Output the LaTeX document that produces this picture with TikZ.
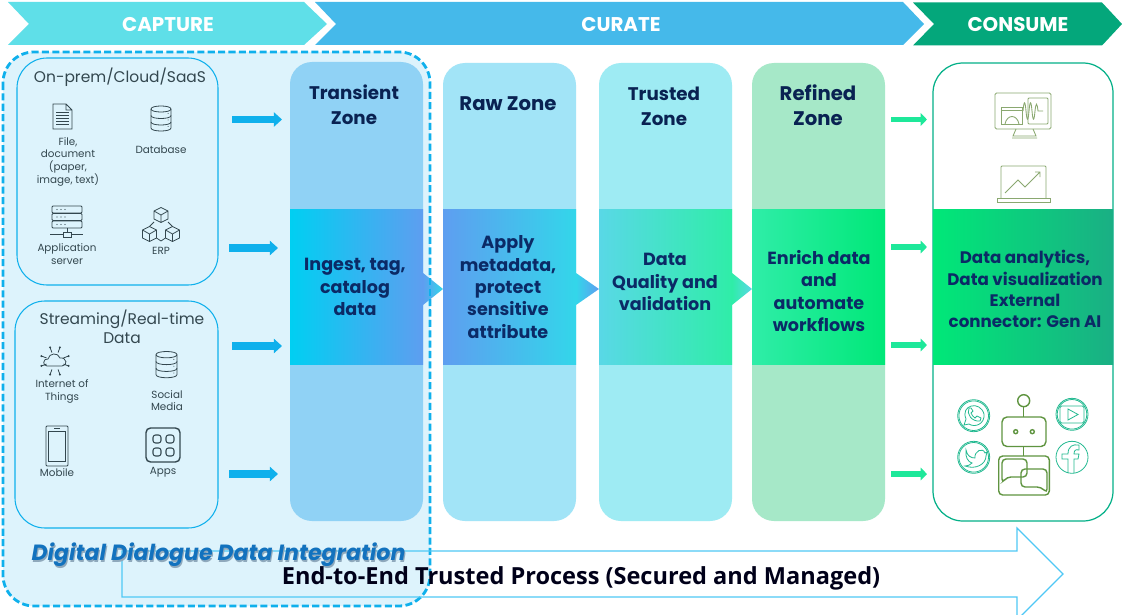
\documentclass[tikz,border=0pt]{standalone}
\usepackage{fontspec}
\setmainfont{Poppins}
\newfontfamily\endfont{Open Sans}
\usepackage{xcolor}
\usetikzlibrary{arrows.meta}

\definecolor{capturecol}{HTML}{5FDFE8}
\definecolor{curatecol}{HTML}{45B9EA}
\definecolor{consumecol}{HTML}{04A77B}
\definecolor{panelcol}{HTML}{DDF3FC}
\definecolor{dashcol}{HTML}{0FB0EC}
\definecolor{navycol}{HTML}{0B2A66}
\definecolor{inkcol}{HTML}{33474F}
\definecolor{leafcol}{HTML}{8AA870}
\definecolor{robotcol}{HTML}{5F9440}
\definecolor{socialcol}{HTML}{22B990}
\definecolor{zoneA}{HTML}{90D2F5}
\definecolor{zoneB}{HTML}{A2E4F7}
\definecolor{zoneC}{HTML}{9EEBF3}
\definecolor{zoneD}{HTML}{A6E8C8}
\definecolor{bandA}{HTML}{00CFF2}
\definecolor{bandB}{HTML}{5E9EF0}
\definecolor{bandC}{HTML}{33D6EA}
\definecolor{bandD}{HTML}{59D8E6}
\definecolor{bandE}{HTML}{2FEDA8}
\definecolor{bandF}{HTML}{00E878}
\definecolor{bandG}{HTML}{1AAF84}
\definecolor{bigarrowcol}{HTML}{4FC8F5}
\definecolor{outcol}{HTML}{1EE89A}
\definecolor{digitalcol}{HTML}{1272BE}
\definecolor{shadowcol}{HTML}{8FA9BC}

\tikzset{
  banner/.style={fill=#1},
  bannertext/.style={text=white,font=\fontsize{11.3}{14}\selectfont\bfseries},
  zone/.style={fill=#1,rounded corners=0.44cm},
  zonetext/.style={text=black!20!navycol,align=center,font=\fontsize{11.2}{14.2}\selectfont\bfseries},
  zonenarrow/.style={text=black!20!navycol,align=center,font=\fontsize{10.4}{14.2}\selectfont\bfseries},
  bandtext/.style={text=navycol,align=center,font=\fontsize{10}{12.7}\selectfont\bfseries},
  consumetext/.style={text=navycol,align=center,font=\fontsize{9.5}{12}\selectfont\bfseries},
  srcbox/.style={draw=dashcol,fill=panelcol,line width=0.6pt,rounded corners=0.6cm},
  srctext/.style={text=inkcol,align=center,font=\fontsize{8.8}{10.8}\selectfont},
  icontext/.style={text=inkcol,align=center,font=\fontsize{5.9}{7.2}\selectfont},
  icon/.style={draw=inkcol,line width=0.45pt},
  inarrow/.style={draw=dashcol,line width=4pt,-{Triangle[length=4.6pt,width=8pt]}},
  outarrow/.style={draw=outcol,line width=3.4pt,-{Triangle[length=3.6pt,width=7pt]}},
  leaf/.style={draw=leafcol,line width=0.5pt},
  robot/.style={draw=robotcol,line width=0.8pt},
  social/.style={draw=socialcol,line width=0.45pt},
  dashline/.style={draw=dashcol,line width=1.6pt,dash pattern=on 4pt off 1.9pt},
}

\newcommand{\dbicon}[3]{%
  \begin{scope}[shift={(#1,#2)},icon,x=#3*0.02cm,y=-#3*0.02cm]
    \draw (0,3) .. controls (0,-1) and (20,-1) .. (20,3) -- (20,22) .. controls (20,26) and (0,26) .. (0,22) -- cycle;
    \draw (0,3) .. controls (0,7) and (20,7) .. (20,3);
    \draw (0,9.5) .. controls (0,13.5) and (20,13.5) .. (20,9.5);
    \draw (0,16) .. controls (0,20) and (20,20) .. (20,16);
    \foreach \y in {7.5,14,20.5}{\fill[inkcol] (17,\y) circle [radius=0.5];}
  \end{scope}}

\begin{document}
\begin{tikzpicture}[x=0.02cm,y=-0.02cm]
\useasboundingbox (0,0) rectangle (1122,615);
\clip (0,0) rectangle (1122,615);
\fill[white] (0,0) rectangle (1122,615);

% banners
\fill[banner=capturecol] (8,2)--(304,2)--(327,24)--(304,45)--(8,45)--(29,24)--cycle;
\fill[banner=curatecol] (315,2)--(903,2)--(924,24)--(903,45)--(315,45)--(336,24)--cycle;
\fill[banner=consumecol] (913,2.5)--(1102,2.5)--(1122,24)--(1102,45.5)--(913,45.5)--(934,24)--cycle;
\node[bannertext] (capture) at (168,25) {CAPTURE};
\node[bannertext] (curate) at (621,25) {CURATE};
\node[bannertext] (consume) at (1018,25) {CONSUME};

% panel behind the capture side
\draw[dashline,fill=panelcol,rounded corners=0.62cm] (3,52) rectangle (430,606);

% big arrow
\draw[draw=bigarrowcol,line width=0.7pt] (122,551)--(1017,551)--(1017,528)--(1063,574)--(1017,620)--(1017,597)--(122,597)--cycle;

% zones
\fill[zone=zoneA] (290,62) rectangle (423,521);
\fill[zone=zoneB] (443,63) rectangle (576,521);
\fill[zone=zoneC] (599,63) rectangle (732,521);
\fill[zone=zoneD] (752,63) rectangle (885,521);
\shade[left color=bandA,right color=bandB] (290,209) rectangle (423,364);
\shade[left color=bandB,right color=bandC] (443,209) rectangle (576,364);
\shade[left color=bandD,right color=bandE] (599,209) rectangle (732,364);
\shade[left color=bandE,right color=bandF] (752,209) rectangle (885,364);
\shade[left color=bandB,right color=bandC] (423,273)--(443,289)--(423,305)--cycle;
\shade[left color=bandC,right color=bandB] (576,273)--(599,289)--(576,305)--cycle;
\shade[left color=bandE,right color=bandD] (732,273)--(752,289)--(732,305)--cycle;

% the dashes come back over the first triangle
\draw[dashline] (430,268)--(430,310);

% consume box
\draw[draw=consumecol!90!cyan,line width=0.7pt,rounded corners=0.6cm] (933,63) rectangle (1113,521);
\shade[left color=bandF,right color=bandG] (933,209) rectangle (1113,364);

\node[zonenarrow] (transient) at (354,105) {Transient\\Zone};
\node[zonetext] (raw) at (508,104) {Raw Zone};
\node[zonenarrow] (trusted) at (664,106) {Trusted\\Zone};
\node[zonetext] (refined) at (818,105) {Refined\\Zone};
\node[bandtext] (ingest) at (355,287) {Ingest, tag,\\catalog\\data};
\node[bandtext] (apply) at (508,287) {Apply\\metadata,\\protect\\sensitive\\attribute};
\node[bandtext] (quality) at (665,282) {Data\\Quality and\\validation};
\node[bandtext] (enrich) at (819,291) {Enrich data\\and\\automate\\workflows};
\node[consumetext] (analytics) at (1025,289) {Data analytics,\\Data visualization\\External\\connector: Gen AI};

% source boxes
\draw[srcbox] (17,58) rectangle (218,285);
\draw[srcbox] (15,301) rectangle (218,528);
\node[srctext] (onprem) at (120,77) {On-prem/Cloud/SaaS};
\node[srctext] (streaming) at (122,327) {Streaming/Real-time\\Data};

% file
\draw[icon] (53,104)--(66,104)--(72,110)--(72,129)--(53,129)--cycle (66,104)--(66,110)--(72,110);
\foreach \y in {112,115,118,121,124}{\draw[icon] (56,\y)--(69,\y);}
\node[icontext] (file) at (68,161.5) {File,\\document\\(paper,\\image, text)};
\dbicon{151}{106}{1}
\node[icontext] (database) at (161,149.5) {Database};

% server
\foreach \y in {206,213.5,221}{
  \draw[icon,rounded corners=0.02cm] (52,\y) rectangle (82,\y+7);
  \foreach \x in {57,61,65}{\fill[inkcol] (\x,\y+3.5) circle [radius=0.6];}
}
\draw[icon] (67,228)--(67,232) (50,234.5)--(63,234.5) (71,234.5)--(83,234.5);
\draw[icon] (63,232) rectangle (71,237);
\node[icontext] (appserver) at (67,254) {Application\\server};

% erp
\foreach \x/\y in {161/215,149.5/234,172.5/234}{
  \begin{scope}[shift={(\x,\y)}]
    \draw[icon] (0,-7.5)--(7,-4)--(7,4)--(0,7.5)--(-7,4)--(-7,-4)--cycle (-7,-4)--(0,0)--(7,-4) (0,0)--(0,7.5);
  \end{scope}
}
\draw[icon] (154,222)--(149.5,226.5) (168,222)--(172.5,226.5) (156.5,238)--(161,241)--(165.5,238);
\node[icontext] (erp) at (161,251) {ERP};

% internet of things
\draw[icon] (47,366) .. controls (42,366) and (43,358) .. (48,359) .. controls (49,353) and (58,352) .. (60,358) .. controls (67,357) and (68,366) .. (62,366) -- cycle;
\foreach \a in {20,70,110,160,200,250,290,340}{
  \draw[icon] (55,361)++(\a:9)--++(\a:5.5);
  \fill[inkcol] (55,361)++(\a:14.5) circle [radius=1.1];
}
\node[icontext] (iot) at (62,391.5) {Internet of\\Things};
\dbicon{156}{351.5}{1.05}
\node[icontext] (social) at (167,400.5) {Social\\Media};

% mobile
\draw[icon,rounded corners=0.02cm] (46,426) rectangle (68,466);
\draw[icon] (48.5,431) rectangle (65.5,461);
\draw[icon] (54,428)--(60,428);
\node[icontext] (mobile) at (57,473) {Mobile};

% apps
\draw[draw=inkcol,line width=0.8pt,rounded corners=0.09cm] (146,428) rectangle (180,462);
\foreach \x/\y in {153/435,166/435,153/448,166/448}{
  \draw[draw=inkcol,line width=0.6pt,rounded corners=0.05cm] (\x,\y) rectangle (\x+8,\y+8);
}
\node[icontext] (apps) at (163,472.5) {Apps};

% monitor
\draw[leaf,rounded corners=0.03cm] (995,93) rectangle (1051,129);
\draw[leaf] (1016,129)--(1013,136)--(1036,136)--(1033,129) (1012,138)--(1037,138);
\draw[leaf] (1001,107) rectangle (1022,124) (1001,110)--(1022,110);
\draw[leaf,rounded corners=0.02cm] (1028,98) rectangle (1048,124);
\draw[leaf] (1005,124) .. controls (1007,114) and (1017,114) .. (1019,124);
\draw[leaf] (1023,111) .. controls (1024,100) and (1025,100) .. (1026,111) .. controls (1027,122) and (1028,122) .. (1029,111) .. controls (1030,100) and (1031,100) .. (1032,111) .. controls (1033,122) and (1034,122) .. (1035,111) .. controls (1036,102) and (1037,102) .. (1038,111)--(1043,111);

% laptop
\draw[leaf,rounded corners=0.02cm] (1001,198)--(1001,166)--(1046,166)--(1046,198);
\draw[leaf] (997,198) rectangle (1050,202);
\draw[leaf] (1005,193)--(1018,180)--(1025,187)--(1040,172) (1035,172)--(1040,172)--(1040,177);

% robot
\draw[robot] (1023.7,400.7) circle [radius=6];
\draw[robot] (1023.7,406.7)--(1023.7,417) (1023.7,446.5)--(1023.7,456);
\draw[robot,rounded corners=0.1cm] (1002,417) rectangle (1046,446.5);
\draw[robot] (1015.7,431.7) circle [radius=2] (1032.3,431.7) circle [radius=2];
\draw[robot,rounded corners=0.08cm] (998.7,456) rectangle (1049.3,495);
\draw[robot,rounded corners=0.08cm] (1002,483)--(1002,459)--(1027,459)--(1027,477)--(1007,477)--cycle;
\draw[robot,rounded corners=0.08cm] (1047,493)--(1047,469)--(1021,469)--(1021,487)--(1041,487)--cycle;

% social icons
\foreach \x/\y in {973.7/415.7,1072/414.3,973.7/457.3,1072/457.3}{
  \draw[social] (\x,\y) circle [radius=16];
}
\foreach \x/\y in {973.7/415.7,1072/414.3,973.7/457.3}{
  \draw[social] (\x,\y) circle [radius=14.8];
}
\draw[social] (964,425)--(966,419) .. controls (960,405) and (980,400) .. (984,414) .. controls (985,424) and (975,428) .. (969,424) -- cycle;
\draw[social] (969,408) .. controls (966,414) and (972,422) .. (980,421) -- (981,418) -- (977,416) -- (975,418) .. controls (973,417) and (972,415) .. (971,413) -- (973,411) -- (971,408) -- cycle;
\draw[social,rounded corners=0.03cm] (1060,406) rectangle (1084,423);
\draw[social] (1068,409)--(1078,414.5)--(1068,420)--cycle;
\draw[social] (966,450) .. controls (967,456) and (971,458) .. (975,458) .. controls (974,451) and (983,447) .. (985,453) -- (987,452) -- (986,456) .. controls (986,464) and (976,470) .. (965,466) .. controls (968,466) and (970,465) .. (972,463) .. controls (968,462) and (965,457) .. (966,450) -- cycle;
\draw[social] (1068,473) -- (1068,459) -- (1062,459) -- (1062,454) -- (1068,454) .. controls (1068,446) and (1073,444) .. (1079,445) -- (1079,450) .. controls (1075,449) and (1074,451) .. (1074,454) -- (1079,454) -- (1078,459) -- (1074,459) -- (1074,473);

% small arrows
\foreach \name/\xa/\xb/\y in {a/232/282/119.5,b/229/278/248,c/232/282/346,d/229/278/474}{
  \coordinate (in\name s) at (\xa,\y);
  \coordinate (in\name e) at (\xb,\y);
  \draw[inarrow] (in\name s)--(in\name e);
}
\foreach \name/\y in {a/119.5,b/247,c/345,d/474}{
  \coordinate (out\name s) at (891,\y);
  \coordinate (out\name e) at (927,\y);
  \draw[outarrow] (out\name s)--(out\name e);
}

\node[text=shadowcol,font=\fontsize{12.55}{14}\selectfont\bfseries\itshape] (digitalshadow) at (219.5,556.5) {Digital Dialogue Data Integration};
\node[text=digitalcol,font=\fontsize{12.55}{14}\selectfont\bfseries\itshape] (digital) at (218.5,555) {Digital Dialogue Data Integration};
\node[text=black!90!blue,font=\endfont\fontsize{13.4}{15}\selectfont\bfseries] (endtoend) at (581,578) {End-to-End Trusted Process (Secured and Managed)};

\end{tikzpicture}
\end{document}
